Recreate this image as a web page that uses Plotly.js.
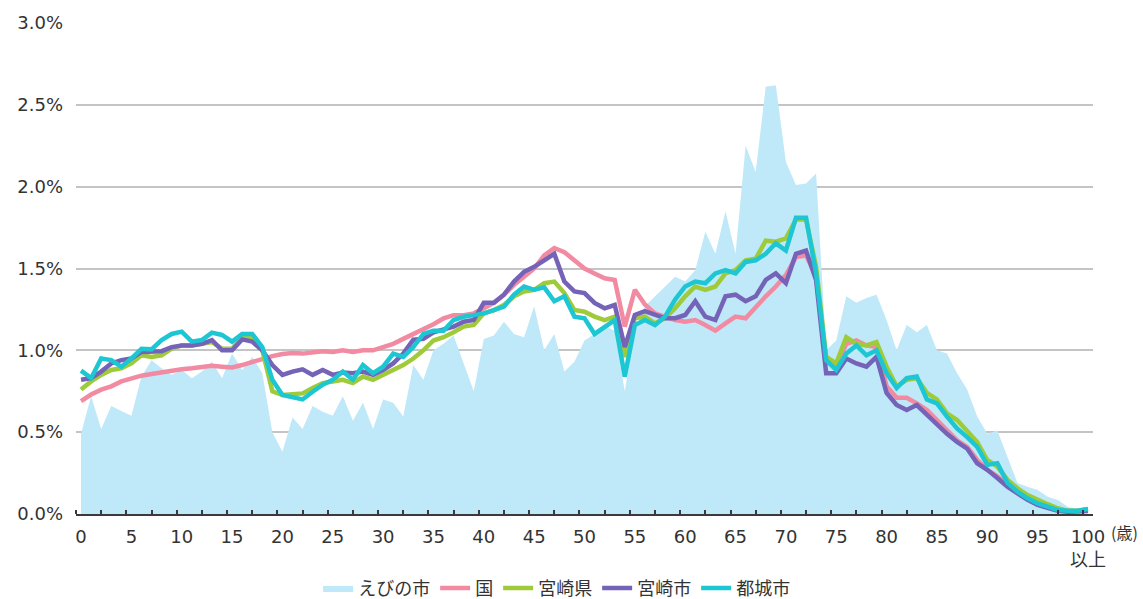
<!DOCTYPE html>
<html>
<head>
<meta charset="utf-8">
<script src="https://cdn.plot.ly/plotly-3.0.1.min.js"></script>
<style>
  html, body { margin: 0; padding: 0; background: #ffffff; }
  #chart { width: 1143px; height: 599px; }
</style>
</head>
<body>
<div id="chart"></div>
<script>
// Age categories 0..100 (100 = 100歳以上)
const ages = [
  0,1,2,3,4,5,6,7,8,9,10,11,12,13,14,15,16,17,18,19,20,
  21,22,23,24,25,26,27,28,29,30,31,32,33,34,35,36,37,38,39,40,
  41,42,43,44,45,46,47,48,49,50,51,52,53,54,55,56,57,58,59,60,
  61,62,63,64,65,66,67,68,69,70,71,72,73,74,75,76,77,78,79,80,
  81,82,83,84,85,86,87,88,89,90,91,92,93,94,95,96,97,98,99,100
];

// Share of population by age (%)
const ebino = [
  0.49,0.72,0.52,0.66,0.63,0.60,0.84,0.94,0.89,0.85,0.88,
  0.83,0.87,0.93,0.83,0.98,0.88,0.96,0.86,0.50,0.38,
  0.59,0.52,0.66,0.625,0.60,0.72,0.57,0.68,0.52,0.70,
  0.68,0.595,0.91,0.82,1.00,1.04,1.09,0.92,0.75,1.07,
  1.09,1.175,1.10,1.08,1.27,1.00,1.10,0.87,0.93,1.06,
  1.10,1.15,1.12,0.75,1.12,1.27,1.33,1.39,1.45,1.42,
  1.49,1.725,1.59,1.85,1.59,2.25,2.09,2.61,2.62,2.15,
  2.01,2.02,2.08,1.00,1.06,1.33,1.29,1.32,1.34,1.185,
  1.00,1.155,1.11,1.155,1.00,0.98,0.86,0.76,0.595,0.49,
  0.51,0.35,0.19,0.167,0.147,0.106,0.085,0.045,0.024,0.024
];

const kuni = [
  0.69,0.73,0.76,0.78,0.81,0.83,0.845,0.855,0.865,0.88,0.885,
  0.89,0.90,0.905,0.90,0.895,0.91,0.93,0.945,0.965,0.978,
  0.983,0.98,0.99,0.995,0.99,1.00,0.99,1.00,1.00,1.02,
  1.04,1.07,1.10,1.125,1.16,1.195,1.215,1.215,1.226,1.257,
  1.29,1.34,1.40,1.45,1.50,1.58,1.625,1.60,1.55,1.50,
  1.47,1.44,1.43,1.145,1.37,1.28,1.226,1.206,1.185,1.175,
  1.185,1.155,1.12,1.165,1.206,1.196,1.267,1.33,1.39,1.46,
  1.57,1.58,1.45,0.93,0.90,1.04,1.06,1.03,1.02,0.78,
  0.71,0.71,0.676,0.635,0.574,0.51,0.45,0.41,0.33,0.27,
  0.23,0.177,0.136,0.096,0.065,0.04,0.024,0.015,0.015,0.02
];

const miyazakiKen = [
  0.76,0.81,0.85,0.88,0.89,0.92,0.97,0.96,0.97,1.01,1.03,
  1.03,1.04,1.05,1.01,1.01,1.08,1.08,1.00,0.75,0.727,
  0.733,0.737,0.77,0.80,0.81,0.82,0.80,0.84,0.82,0.85,
  0.88,0.91,0.95,1.00,1.06,1.08,1.11,1.145,1.155,1.226,
  1.246,1.277,1.33,1.36,1.37,1.41,1.42,1.35,1.246,1.236,
  1.206,1.185,1.206,0.96,1.196,1.206,1.165,1.196,1.257,1.33,
  1.39,1.37,1.39,1.47,1.49,1.55,1.56,1.67,1.664,1.684,
  1.80,1.80,1.51,0.96,0.92,1.08,1.04,1.03,1.05,0.90,
  0.78,0.82,0.83,0.74,0.70,0.615,0.574,0.51,0.44,0.33,
  0.29,0.21,0.157,0.116,0.085,0.06,0.035,0.02,0.02,0.03
];

const miyazakiShi = [
  0.82,0.83,0.87,0.92,0.94,0.95,0.99,0.995,0.995,1.02,1.03,
  1.03,1.04,1.063,1.00,1.00,1.067,1.053,1.00,0.91,0.85,
  0.87,0.884,0.85,0.88,0.85,0.864,0.86,0.87,0.85,0.88,
  0.92,0.98,1.065,1.07,1.11,1.13,1.145,1.175,1.185,1.29,
  1.29,1.34,1.42,1.48,1.51,1.55,1.59,1.42,1.36,1.35,
  1.29,1.257,1.277,1.02,1.216,1.24,1.22,1.196,1.196,1.216,
  1.30,1.206,1.185,1.33,1.34,1.30,1.33,1.43,1.47,1.41,
  1.59,1.61,1.43,0.86,0.86,0.95,0.92,0.90,0.96,0.74,
  0.666,0.635,0.666,0.605,0.544,0.49,0.44,0.40,0.31,0.27,
  0.22,0.167,0.126,0.086,0.055,0.035,0.02,0.014,0.014,0.02
];

const miyakonojo = [
  0.876,0.83,0.95,0.94,0.90,0.95,1.01,1.006,1.063,1.10,1.114,
  1.053,1.063,1.108,1.094,1.053,1.10,1.10,1.02,0.82,0.727,
  0.713,0.70,0.747,0.79,0.82,0.87,0.82,0.91,0.86,0.90,
  0.98,0.96,1.02,1.10,1.12,1.12,1.185,1.205,1.215,1.226,
  1.246,1.267,1.34,1.39,1.37,1.385,1.30,1.33,1.206,1.196,
  1.10,1.145,1.185,0.84,1.155,1.185,1.155,1.206,1.31,1.39,
  1.42,1.41,1.47,1.49,1.47,1.54,1.55,1.59,1.654,1.61,
  1.81,1.81,1.47,0.94,0.88,0.98,1.03,0.97,1.00,0.86,
  0.77,0.83,0.84,0.70,0.676,0.595,0.523,0.47,0.41,0.30,
  0.31,0.19,0.136,0.096,0.065,0.045,0.024,0.02,0.02,0.03
];

const xTickVals = [0,5,10,15,20,25,30,35,40,45,50,55,60,65,70,75,80,85,90,95,100];
const xTickText = ['0','5','10','15','20','25','30','35','40','45','50','55','60','65','70','75','80','85','90','95','100<br>以上'];
const yTickVals = [0,0.5,1.0,1.5,2.0,2.5,3.0];
const yTickText = ['0.0%','0.5%','1.0%','1.5%','2.0%','2.5%','3.0%'];

const seriesNames = ['えびの市','国','宮崎県','宮崎市','都城市'];
const colors = {
  area: '#bfe8f9',
  kuni: '#f28aa2',
  ken: '#9fcb3a',
  shi: '#7563b8',
  miya: '#1cc6d2'
};

const FONT = 'DejaVu Sans, "Noto Sans CJK JP", sans-serif';
const JFONT = '"Noto Sans CJK JP", sans-serif';

const traces = [
  {
    x: ages, y: ebino, name: seriesNames[0], type: 'scatter', mode: 'lines',
    fill: 'tozeroy', fillcolor: colors.area, line: {width: 0, color: colors.area}
  },
  {x: ages, y: kuni, name: seriesNames[1], type: 'scatter', mode: 'lines',
   line: {color: colors.kuni, width: 4.5}},
  {x: ages, y: miyazakiKen, name: seriesNames[2], type: 'scatter', mode: 'lines',
   line: {color: colors.ken, width: 4.5}},
  {x: ages, y: miyazakiShi, name: seriesNames[3], type: 'scatter', mode: 'lines',
   line: {color: colors.shi, width: 4.5}},
  {x: ages, y: miyakonojo, name: seriesNames[4], type: 'scatter', mode: 'lines',
   line: {color: colors.miya, width: 4.5}}
];

const layout = {
  width: 1143, height: 599,
  margin: {l: 76, r: 50, t: 23, b: 85, autoexpand: false},
  paper_bgcolor: '#ffffff', plot_bgcolor: '#ffffff',
  showlegend: true,
  legend: {
    orientation: 'h', xref: 'container', yref: 'container',
    x: 0.487, xanchor: 'center', y: 0.018, yanchor: 'middle',
    font: {family: JFONT, size: 18, color: '#333333'},
    itemwidth: 30, traceorder: 'normal'
  },
  xaxis: {
    range: [-0.5, 100.5], showgrid: false, zeroline: false, automargin: false,
    showline: true, linecolor: '#3a3a3a', linewidth: 2,
    tickmode: 'array', tickvals: xTickVals, ticktext: xTickText,
    ticks: '', ticklabelstandoff: 5,
    minor: {tick0: -0.5, dtick: 2.5, ticks: 'inside', ticklen: 4, tickwidth: 2, tickcolor: '#3a3a3a', showgrid: false},
    tickfont: {family: FONT, size: 18, color: '#333333'},
    fixedrange: true
  },
  yaxis: {
    range: [0, 3.0], tickmode: 'array', tickvals: yTickVals, ticktext: yTickText,
    showgrid: true, gridcolor: '#c4c4c4', gridwidth: 2, automargin: false,
    zeroline: false, showline: false, ticks: '',
    ticklabelstandoff: 12,
    tickfont: {family: FONT, size: 18, color: '#333333'},
    fixedrange: true
  },
  annotations: [
    {
      xref: 'paper', yref: 'paper', x: 1.016, y: -0.037,
      xanchor: 'left', yanchor: 'middle', showarrow: false,
      text: '(歳)', font: {family: JFONT, size: 16, color: '#333333'}
    }
  ]
};

Plotly.newPlot('chart', traces, layout, {displayModeBar: false, staticPlot: true});
</script>
</body>
</html>
